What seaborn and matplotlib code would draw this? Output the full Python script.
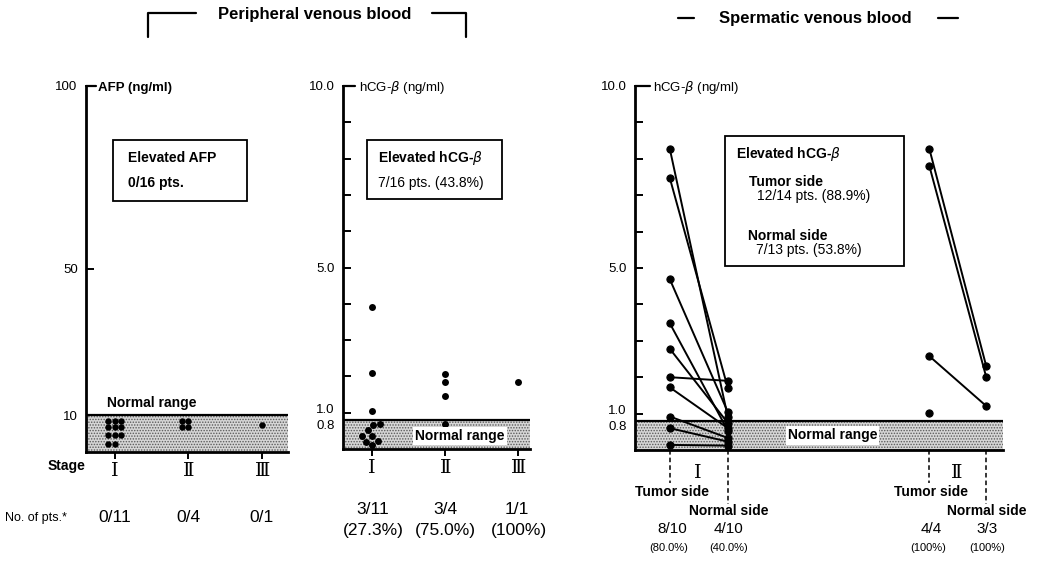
import numpy as np
import pandas as pd
import matplotlib
matplotlib.use("Agg")
import matplotlib.pyplot as plt
import matplotlib.transforms as mtransforms
from matplotlib.patches import Rectangle
from matplotlib.lines import Line2D
import seaborn as sns

# ---------------- data ----------------
stages = ["I", "II", "III"]
stage_numerals = ["Ⅰ", "Ⅱ", "Ⅲ"]

afp_stage = ["I"] * 11 + ["II"] * 4 + ["III"]
afp_values = [8.5, 8.5, 8.5, 6.7, 6.7, 6.7, 4.6, 4.6, 4.6, 2.3, 2.3,
              8.5, 8.5, 6.7, 6.7,
              7.4]
afp_counts = ["0/11", "0/4", "0/1"]

hcg_stage = ["I"] * 11 + ["II"] * 4 + ["III"]
hcg_values = [3.9, 2.1, 1.05, 0.68, 0.66, 0.52, 0.37, 0.37, 0.23, 0.20, 0.11,
              2.07, 1.85, 1.45, 0.68,
              1.85]
hcg_counts = ["3/11", "3/4", "1/1"]
hcg_pcts = ["(27.3%)", "(75.0%)", "(100%)"]

sides = ["Tumor side", "Normal side"]
sp1_tumor = [8.27, 7.47, 4.69, 3.48, 2.78, 2.00, 1.72, 0.92, 0.60, 0.14]
sp1_normal = [0.90, 1.70, 1.04, 0.53, 0.74, 1.90, 0.60, 0.33, 0.23, 0.12]
sp2_tumor = [8.28, 7.81, 2.58, 1.03]
sp2_normal = [2.31, 2.01, 1.21, np.nan]
sp_counts = {"I": ["8/10", "4/10"], "II": ["4/4", "3/3"]}
sp_pcts = {"I": ["(80.0%)", "(40.0%)"], "II": ["(100%)", "(100%)"]}

afp_normal_upper = 10
hcg_normal_upper = 0.8

# ---------------- style ----------------
sns.set_theme(style="white")
plt.rcParams["font.family"] = ["Liberation Sans", "DejaVu Sans"]
plt.rcParams["hatch.linewidth"] = 0.7
for k in ["text.color", "axes.labelcolor", "xtick.color", "ytick.color",
          "axes.edgecolor"]:
    plt.rcParams[k] = "black"
ROMAN = ["DejaVu Serif", "Noto Sans CJK JP"]

W, H = 1041, 561
fig = plt.figure(figsize=(W / 100, H / 100), dpi=100)


def axbox(l, r, t, b):
    return [l / W, 1 - b / H, (r - l) / W, (b - t) / H]


def ftext(x, y, s, **kw):
    kw.setdefault("ha", "center")
    kw.setdefault("va", "center")
    return fig.text(x / W, 1 - y / H, s, **kw)


def fline(xs, ys, lw=1.6):
    fig.add_artist(Line2D([x / W for x in xs], [1 - y / H for y in ys],
                          color="black", lw=lw, transform=fig.transFigure))


def fbox(l, t, r, b):
    fig.add_artist(Rectangle((l / W, 1 - b / H), (r - l) / W, (b - t) / H,
                             fill=False, lw=1.3, ec="black",
                             transform=fig.transFigure))


def band(ax, upper):
    ax.axhspan(0, upper, facecolor="#d6d6d6", hatch="......",
               edgecolor="#5a5a5a", lw=0, zorder=0)
    ax.axhline(upper, color="black", lw=1.6, zorder=1)


def style_axes(ax):
    for s in ["top", "right"]:
        ax.spines[s].set_visible(False)
    ax.spines["left"].set_linewidth(2.0)
    ax.spines["bottom"].set_linewidth(2.0)
    ax.tick_params(axis="y", direction="in", length=6, width=1.4,
                   left=True, pad=6, labelsize=9.5, colors="black")
    ax.tick_params(axis="x", direction="out", length=5, width=1.4,
                   bottom=True, colors="black", pad=2)
    ax.set_xlabel("")
    ax.set_ylabel("")
    ax.patch.set_alpha(0)


# ---------------- panel 1: AFP ----------------
ax1 = fig.add_axes(axbox(86, 288, 86, 452))
band(ax1, afp_normal_upper)
df_afp = pd.DataFrame({"stage": afp_stage, "value": afp_values})
sns.swarmplot(data=df_afp, x="stage", y="value", order=stages, color="black",
              size=4.6, ax=ax1, zorder=3, clip_on=False)
ax1.set_ylim(0, 100)
ax1.set_xlim(-0.39, 2.35)
ax1.set_yticks([10, 50, 100])
ax1.set_yticklabels(["10", "50", "100"])
ax1.set_xticks(range(len(stages)))
ax1.set_xticklabels(stage_numerals, fontsize=14, family=ROMAN)
style_axes(ax1)
ax1.axhline(100, xmin=0, xmax=10 / 202, color="black", lw=1.6, clip_on=False)
ax1.text(0.5, 11.5, "Normal range", transform=ax1.transData, ha="center",
         va="bottom", fontsize=10, fontweight="bold")

# ---------------- panel 2: hCG peripheral ----------------
ax2 = fig.add_axes(axbox(343, 530, 86, 449))
band(ax2, hcg_normal_upper)
df_hcg = pd.DataFrame({"stage": hcg_stage, "value": hcg_values})
sns.swarmplot(data=df_hcg, x="stage", y="value", order=stages, color="black",
              size=5.0, ax=ax2, zorder=3, clip_on=False)
ax2.set_ylim(0, 10)
ax2.set_xlim(-0.40, 2.16)


def hcg_yaxis(ax):
    ticks = [0.8] + list(range(1, 11))
    labels = ["0.8", "1.0", "", "", "", "5.0", "", "", "", "", "10.0"]
    ax.set_yticks(ticks)
    ax.set_yticklabels(labels)
    tl = ax.get_yticklabels()
    tl[0].set_va("top")
    tl[0].set_fontsize(9)
    tl[1].set_va("baseline")
    tl[1].set_fontsize(9)


hcg_yaxis(ax2)
ax2.set_xticks(range(len(stages)))
ax2.set_xticklabels(stage_numerals, fontsize=14, family=ROMAN)
style_axes(ax2)
ax2.axhline(10, xmin=0, xmax=12 / 187, color="black", lw=1.6, clip_on=False)
ax2.text(1.2, 0.36, "Normal range", ha="center", va="center", fontsize=10,
         fontweight="bold", zorder=4,
         bbox=dict(facecolor="white", edgecolor="none", pad=1.5))

# ---------------- panel 3: spermatic ----------------
ax3 = fig.add_axes(axbox(635, 1003, 86, 450))
band(ax3, hcg_normal_upper)
side_pos = {("I", "Tumor side"): 0.0, ("I", "Normal side"): 1.0,
            ("II", "Tumor side"): 4.47, ("II", "Normal side"): 5.45}
rows = []
for stg, tum, nor in [("I", sp1_tumor, sp1_normal), ("II", sp2_tumor, sp2_normal)]:
    for i, (t, n) in enumerate(zip(tum, nor)):
        pid = f"{stg}-{i}"
        rows.append((pid, stg, "Tumor side", t))
        rows.append((pid, stg, "Normal side", n))
df_sp = pd.DataFrame(rows, columns=["patient", "stage", "side", "value"])
df_sp["pos"] = [side_pos[(s, d)] for s, d in zip(df_sp["stage"], df_sp["side"])]
df_sp = df_sp.dropna()
sns.lineplot(data=df_sp, x="pos", y="value", units="patient", estimator=None,
             sort=False, color="black", lw=1.4, marker="o", markersize=5.2,
             markeredgecolor="black", ax=ax3, zorder=3, clip_on=False)
ax3.set_ylim(0, 10)
ax3.set_xlim(-0.60, 5.74)
hcg_yaxis(ax3)
ax3.set_xticks([])
style_axes(ax3)
ax3.tick_params(axis="x", bottom=False)
ax3.axhline(10, xmin=0, xmax=15 / 368, color="black", lw=1.6, clip_on=False)
ax3.text(2.8, 0.4, "Normal range", ha="center", va="center", fontsize=10,
         fontweight="bold", zorder=4,
         bbox=dict(facecolor="white", edgecolor="none", pad=1.5))

trans3 = mtransforms.blended_transform_factory(ax3.transData, ax3.transAxes)
for (stg, side), x in side_pos.items():
    yend = -0.092 if side == "Tumor side" else -0.148
    ax3.plot([x, x], [0, yend], transform=trans3, color="black", lw=1.1,
             ls=(0, (3, 2)), clip_on=False)

# ---------------- texts ----------------
ftext(315, 14, "Peripheral venous blood", fontsize=12, fontweight="bold")
fline([148, 148, 196], [37, 13, 13])
fline([432, 466, 466], [13, 13, 37])
ftext(815, 18, "Spermatic venous blood", fontsize=12, fontweight="bold")
fline([678, 694], [18, 18])
fline([938, 958], [18, 18])

ftext(98, 88, "AFP (ng/ml)", ha="left", fontsize=9.5, fontweight="bold")
ftext(359, 88, "hCG-$\\beta$ (ng/ml)", ha="left", fontsize=9.5)
ftext(653, 88, "hCG-$\\beta$ (ng/ml)", ha="left", fontsize=9.5)

fbox(113, 140, 247, 201)
ftext(128, 158, "Elevated AFP", ha="left", fontsize=10, fontweight="bold")
ftext(128, 183, "0/16 pts.", ha="left", fontsize=10, fontweight="bold")
fbox(367, 140, 502, 199)
ftext(378, 158, "Elevated hCG-$\\beta$", ha="left", fontsize=10, fontweight="bold")
ftext(378, 183, "7/16 pts. (43.8%)", ha="left", fontsize=10)
fbox(725, 136, 904, 266)
ftext(736, 154, "Elevated hCG-$\\beta$", ha="left", fontsize=10, fontweight="bold")
ftext(749, 182, "Tumor side", ha="left", fontsize=10, fontweight="bold")
ftext(757, 196, "12/14 pts. (88.9%)", ha="left", fontsize=10)
ftext(748, 236, "Normal side", ha="left", fontsize=10, fontweight="bold")
ftext(756, 250, "7/13 pts. (53.8%)", ha="left", fontsize=10)

ftext(67, 466, "Stage", fontsize=10, fontweight="bold")
ftext(5, 518, "No. of pts.*", ha="left", fontsize=9)
for xpx, s in zip([115, 188, 262], afp_counts):
    ftext(xpx, 518, s, fontsize=12.5)
for xpx, s, p in zip([373, 445, 517], hcg_counts, hcg_pcts):
    ftext(xpx, 509, s, fontsize=12.5)
    ftext(xpx + 2 if p == "(100%)" else xpx, 530, p, fontsize=12.5)

ftext(698, 473, "Ⅰ", fontsize=14, family=ROMAN)
ftext(957, 473, "Ⅱ", fontsize=14, family=ROMAN)
for stg, xt, xn in [("I", 672, 729), ("II", 931, 987)]:
    ftext(xt, 492, "Tumor side", fontsize=10, fontweight="bold")
    ftext(xn, 511, "Normal side", fontsize=10, fontweight="bold")
    ftext(xt, 529, sp_counts[stg][0], fontsize=11)
    ftext(xn, 529, sp_counts[stg][1], fontsize=11)
    ftext(xt - 3, 548, sp_pcts[stg][0], fontsize=8)
    ftext(xn, 548, sp_pcts[stg][1], fontsize=8)

fig.savefig("out.png", dpi=100)
